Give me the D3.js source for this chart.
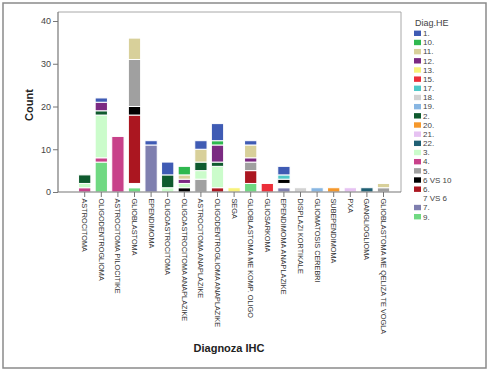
<!DOCTYPE html>
<html>
<head>
<meta charset="utf-8">
<script src="https://cdn.jsdelivr.net/npm/d3@7"></script>
<style>
  body { margin: 0; background: #fff; }
  svg { display: block; font-family: Arial, "Liberation Sans", sans-serif; }
</style>
</head>
<body>
<svg id="chart" width="490" height="373"></svg>
<script>
// categories along the x axis
let categories = [
    "ASTROCITOMA", "OLIGODENTROGLIOMA", "ASTROCITOMA PILOCITIKE", "GLIOBLASTOMA",
    "EPENDIMOMA", "OLIGOASTROCITOMA", "OLIGOASTROCITOMA ANAPLAZIKE",
    "ASTROCITOMA ANAPLAZIKE", "OLIGODENTROGLIOMA ANAPLAZIKE", "SEGA",
    "GLIOBLASTOMA ME KOMP. OLIGO", "GLIOSARKOMA", "EPENDIMOMA ANAPLAZIKE",
    "DISPLAZI KORTIKALE", "GLIOMATOSIS CEREBRI", "SUBEPENDIMOMA", "PXA",
    "GANGLIOGLIOMA", "GLIOBLASTOMA ME QELIZA TE VOGLA"
];

// legend order (top of legend first)
let seriesKeys = ["1.", "10.", "11.", "12.", "13.", "15.", "17.", "18.", "19.", "2.",
    "20.", "21.", "22.", "3.", "4.", "5.", "6 VS 10", "6.", "7 VS 6", "7.", "9."];

let seriesColors = ["#3f5bb4", "#2fb84f", "#d8d09a", "#7b2a82", "#f8f27a", "#ec2f3a",
    "#4ec8c8", "#d2d2d2", "#88b6e2", "#0f5a2e", "#f5982c", "#e6c2f2", "#1f5f73",
    "#cbfccb", "#c8418a", "#a0a0a0", "#000000", "#ab1620", "#ffffff", "#7f7faf", "#70d982"];

// counts, one row per series (same order as seriesKeys), one column per category
let counts = [
    [0, 1, 0, 0, 1, 3, 0, 2, 4, 0, 1, 0, 2, 0, 0, 0, 0, 0, 0],   // 1.
    [0, 0, 0, 0, 0, 0, 2, 0, 1, 0, 0, 0, 0, 0, 0, 0, 0, 0, 0],   // 10.
    [0, 0, 0, 5, 0, 0, 1, 3, 0, 0, 3, 0, 0, 0, 0, 0, 0, 0, 1],   // 11.
    [0, 2, 0, 0, 0, 0, 1, 0, 4, 0, 1, 0, 0, 0, 0, 0, 0, 0, 0],   // 12.
    [0, 0, 0, 0, 0, 0, 0, 0, 0, 1, 0, 0, 0, 0, 0, 0, 0, 0, 0],   // 13.
    [0, 0, 0, 0, 0, 0, 0, 0, 0, 0, 0, 2, 0, 0, 0, 0, 0, 0, 0],   // 15.
    [0, 0, 0, 0, 0, 0, 0, 0, 0, 0, 0, 0, 1, 0, 0, 0, 0, 0, 0],   // 17.
    [0, 0, 0, 0, 0, 0, 0, 0, 0, 0, 0, 0, 0, 1, 0, 0, 0, 0, 0],   // 18.
    [0, 0, 0, 0, 0, 0, 0, 0, 0, 0, 0, 0, 0, 0, 1, 0, 0, 0, 0],   // 19.
    [2, 1, 0, 0, 0, 3, 0, 2, 1, 0, 0, 0, 0, 0, 0, 0, 0, 0, 0],   // 2.
    [0, 0, 0, 0, 0, 0, 0, 0, 0, 0, 0, 0, 0, 0, 0, 1, 0, 0, 0],   // 20.
    [0, 0, 0, 0, 0, 0, 0, 0, 0, 0, 0, 0, 0, 0, 0, 0, 1, 0, 0],   // 21.
    [0, 0, 0, 0, 0, 0, 0, 0, 0, 0, 0, 0, 0, 0, 0, 0, 0, 1, 0],   // 22.
    [1, 10, 0, 0, 0, 1, 1, 2, 5, 0, 0, 0, 0, 0, 0, 0, 0, 0, 0],  // 3.
    [1, 1, 13, 0, 0, 0, 0, 0, 0, 0, 0, 0, 0, 0, 0, 0, 0, 0, 0],  // 4.
    [0, 0, 0, 11, 0, 0, 0, 3, 0, 0, 2, 0, 0, 0, 0, 0, 0, 0, 1],  // 5.
    [0, 0, 0, 2, 0, 0, 1, 0, 0, 0, 0, 0, 1, 0, 0, 0, 0, 0, 0],   // 6 VS 10
    [0, 0, 0, 16, 0, 0, 0, 0, 1, 0, 3, 0, 0, 0, 0, 0, 0, 0, 0],  // 6.
    [0, 0, 0, 1, 0, 0, 0, 0, 0, 0, 0, 0, 1, 0, 0, 0, 0, 0, 0],   // 7 VS 6
    [0, 0, 0, 0, 11, 0, 0, 0, 0, 0, 0, 0, 1, 0, 0, 0, 0, 0, 0],  // 7.
    [0, 7, 0, 1, 0, 0, 0, 0, 0, 0, 2, 0, 0, 0, 0, 0, 0, 0, 0]    // 9.
];

let yTicks = [0, 10, 20, 30, 40];

function render() {
    let svg = d3.select("#chart");

    // outer frame
    svg.append("rect")
        .attr("x", 3).attr("y", 3)
        .attr("width", 483).attr("height", 365)
        .attr("fill", "none")
        .attr("stroke", "#8a8a8a")
        .attr("stroke-width", 1.5);

    let plot = { left: 58, top: 12, right: 401, bottom: 192 };

    let xScale = d3.scaleBand()
        .domain(categories)
        .range([76.4, 391.8])
        .paddingInner(0.26)
        .paddingOuter(0.13);

    let yScale = d3.scaleLinear().domain([0, 40]).range([192, 21]);

    let color = d3.scaleOrdinal().domain(seriesKeys).range(seriesColors);

    // table for the stack: one row per category
    let table = categories.map((c, i) => {
        let row = { cat: c };
        seriesKeys.forEach((k, j) => row[k] = counts[j][i]);
        return row;
    });

    // SPSS draws the last legend entry at the bottom
    let stack = d3.stack().keys(seriesKeys.slice().reverse());
    let layers = stack(table);

    // plot frame (top + right in light gray)
    svg.append("path")
        .attr("d", `M${plot.left},${plot.top}H${plot.right}V${plot.bottom}`)
        .attr("fill", "none")
        .attr("stroke", "#a8a8a8")
        .attr("stroke-width", 1);

    let g = svg.append("g");

    g.selectAll(".layer")
        .data(layers)
        .enter()
        .append("g")
        .attr("fill", d => color(d.key))
        .selectAll("rect")
        .data(d => d.filter(v => v[1] - v[0] > 0))
        .enter()
        .append("rect")
        .attr("x", d => xScale(d.data.cat))
        .attr("width", xScale.bandwidth())
        .attr("y", d => yScale(d[1]))
        .attr("height", d => yScale(d[0]) - yScale(d[1]))
        .attr("stroke", "#fff")
        .attr("stroke-width", 1);

    // y axis
    let yAxis = svg.append("g")
        .attr("transform", `translate(${plot.left},0)`)
        .call(d3.axisLeft(yScale).tickValues(yTicks).tickSize(5).tickPadding(2));
    yAxis.select(".domain").remove();
    yAxis.selectAll("line").attr("stroke", "#777");
    yAxis.selectAll("text").attr("font-size", "9px").attr("fill", "#444");

    svg.append("line")
        .attr("x1", plot.left).attr("x2", plot.left)
        .attr("y1", plot.top).attr("y2", plot.bottom)
        .attr("stroke", "#777").attr("stroke-width", 1.2);

    // x axis
    let xAxis = svg.append("g")
        .attr("transform", `translate(0,${plot.bottom})`)
        .call(d3.axisBottom(xScale).tickSize(5).tickSizeOuter(0).tickPadding(0));
    xAxis.select(".domain").remove();
    xAxis.selectAll("line").attr("stroke", "#777");
    xAxis.selectAll("text")
        .attr("font-size", "7.3px")
        .attr("fill", "#333")
        .attr("text-anchor", "start")
        .attr("transform", "rotate(90)")
        .attr("x", 6.5)
        .attr("y", 0)
        .attr("dy", "0.35em");

    svg.append("line")
        .attr("x1", plot.left).attr("x2", plot.right)
        .attr("y1", plot.bottom).attr("y2", plot.bottom)
        .attr("stroke", "#777").attr("stroke-width", 1.2);

    // axis titles
    svg.append("text")
        .attr("transform", "translate(33,105) rotate(-90)")
        .attr("text-anchor", "middle")
        .attr("font-size", "11px")
        .attr("font-weight", "bold")
        .attr("fill", "#222")
        .text("Count");

    svg.append("text")
        .attr("x", 229)
        .attr("y", 352)
        .attr("text-anchor", "middle")
        .attr("font-size", "11px")
        .attr("font-weight", "bold")
        .attr("fill", "#222")
        .text("Diagnoza IHC");

    // legend
    let legend = svg.append("g").attr("transform", "translate(414,0)");
    legend.append("text")
        .attr("x", 1)
        .attr("y", 26)
        .attr("font-size", "9px")
        .attr("fill", "#444")
        .text("Diag.HE");

    let legendY = d3.scalePoint().domain(seriesKeys).range([33.3, 216.7]);

    let item = legend.selectAll(".item")
        .data(seriesKeys)
        .enter()
        .append("g")
        .attr("transform", d => `translate(0,${legendY(d)})`);

    item.append("rect")
        .attr("x", 0)
        .attr("y", -2.7)
        .attr("width", 7)
        .attr("height", 5.4)
        .attr("fill", d => color(d));

    item.append("text")
        .attr("x", 9)
        .attr("y", 0)
        .attr("dy", "0.35em")
        .attr("font-size", "8px")
        .attr("fill", "#444")
        .text(d => d);
}

render();
</script>
</body>
</html>
